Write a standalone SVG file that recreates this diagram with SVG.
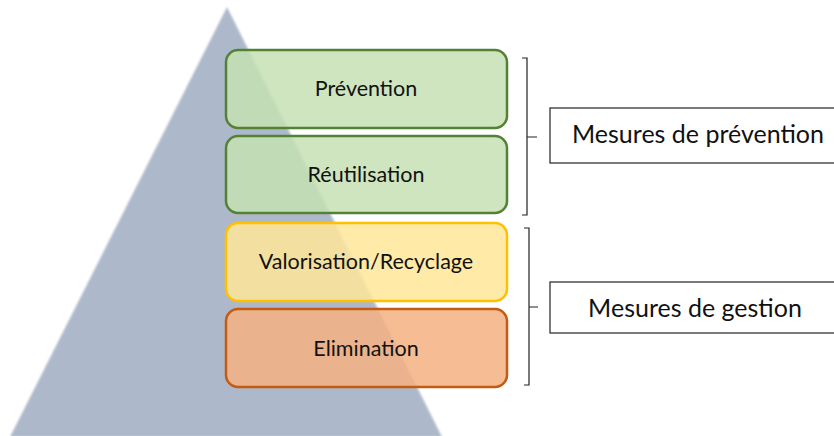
<svg xmlns="http://www.w3.org/2000/svg" width="834" height="436" viewBox="0 0 834 436">
<defs>
<style>
.t{font-family:Lato,"Liberation Sans",sans-serif;fill:#111;text-anchor:middle}
.box{stroke-width:2.5}
.br{fill:none;stroke:#222;stroke-width:1.2}
.lab{fill:#fff;stroke:#222;stroke-width:1.2}
</style>
<filter id="soft" x="-5%" y="-5%" width="110%" height="110%"><feGaussianBlur stdDeviation="1"/></filter>
</defs>
<rect width="834" height="436" fill="#fff"/>
<g id="pyramid">
<polygon points="227,7 442,437 10,437" fill="#ADB9CA" filter="url(#soft)"/>
</g>
<g id="prevention">
<rect class="box" x="226" y="50" width="281" height="78" rx="12" fill="#C5E0B4" fill-opacity="0.85" stroke="#548235"/>
<text class="t" x="366" y="96" font-size="21.5">Prévention</text>
</g>
<g id="reutilisation">
<rect class="box" x="226" y="136" width="281" height="77" rx="12" fill="#C5E0B4" fill-opacity="0.85" stroke="#548235"/>
<text class="t" x="366" y="182" font-size="21.5">Réutilisation</text>
</g>
<g id="valorisation">
<rect class="box" x="226" y="223" width="281" height="78" rx="12" fill="#FFE699" fill-opacity="0.85" stroke="#FFC000"/>
<text class="t" x="366" y="269" font-size="21.5">Valorisation/Recyclage</text>
</g>
<g id="elimination">
<rect class="box" x="226" y="309" width="281" height="78" rx="12" fill="#F4B183" fill-opacity="0.85" stroke="#C55A11"/>
<text class="t" x="366" y="356" font-size="21.5">Elimination</text>
</g>
<g id="connectors">
<path class="br" d="M522,58 H527 V215 H522 M527,137 H537"/>
<path class="br" d="M524,228 H529 V385 H524 M529,307 H538"/>
</g>
<g id="mesures-prevention">
<rect class="lab" x="550" y="108" width="290" height="55"/>
<text class="t" x="698" y="143" font-size="25">Mesures de prévention</text>
</g>
<g id="mesures-gestion">
<rect class="lab" x="550" y="282" width="290" height="51"/>
<text class="t" x="695" y="317" font-size="25">Mesures de gestion</text>
</g>
</svg>
